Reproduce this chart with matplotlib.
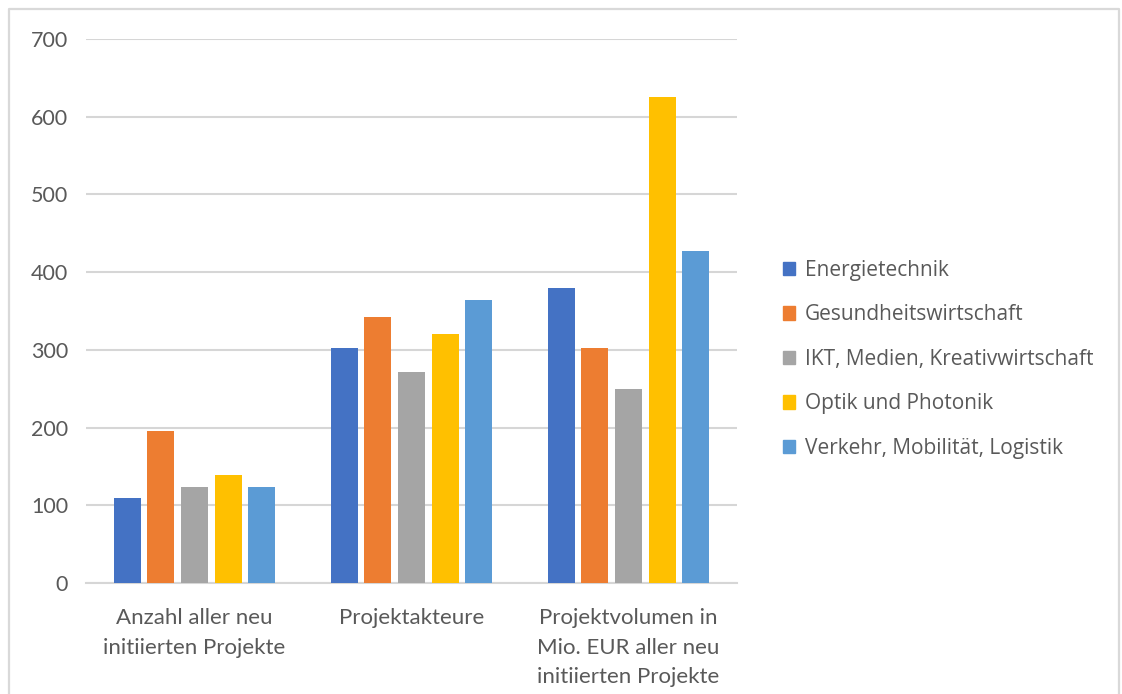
import matplotlib
matplotlib.use("Agg")
import matplotlib.pyplot as plt
from matplotlib.patches import Patch
from matplotlib.lines import Line2D
import numpy as np

categories = [
    "Anzahl aller neu\ninitiierten Projekte",
    "Projektakteure",
    "Projektvolumen in\nMio. EUR aller neu\ninitiierten Projekte",
]
series_names = [
    "Energietechnik",
    "Gesundheitswirtschaft",
    "IKT, Medien, Kreativwirtschaft",
    "Optik und Photonik",
    "Verkehr, Mobilität, Logistik",
]
energietechnik = [110, 302, 379]
gesundheitswirtschaft = [196, 342, 303]
ikt_medien = [123, 272, 250]
optik_photonik = [139, 320, 625]
verkehr_logistik = [123, 364, 427]
yticks = [0, 100, 200, 300, 400, 500, 600, 700]

series_values = [energietechnik, gesundheitswirtschaft, ikt_medien,
                 optik_photonik, verkehr_logistik]
colors = ["#4472C4", "#ED7D31", "#A5A5A5", "#FFC000", "#5B9BD5"]
text_color = "#595959"
axis_font = "Lato"
legend_font = "Open Sans"

fig = plt.figure(figsize=(11.22, 6.94), dpi=100)
fig.patch.set_facecolor("white")

# outer chart frame (light grey, continues past the bottom edge)
frame = Line2D([9 / 1122, 9 / 1122, 1119 / 1122, 1119 / 1122],
               [-0.05, 1 - 9 / 694, 1 - 9 / 694, -0.05],
               transform=fig.transFigure, color="#D9D9D9", lw=1.6)
fig.add_artist(frame)

ax = fig.add_axes([86 / 1122, 1 - 583 / 694, 651 / 1122, 544 / 694])
x = np.arange(len(categories))
step = 0.155
width = 0.124
for i, (vals, c) in enumerate(zip(series_values, colors)):
    ax.bar(x + (i - 2) * step, vals, width=width, color=c, zorder=3,
           label=series_names[i])

ax.set_xlim(-0.5, len(categories) - 0.5)
ax.set_ylim(0, 700)
ax.set_yticks(yticks)
ax.set_yticklabels([str(t) for t in yticks], fontsize=15.5,
                   color=text_color, family=axis_font)
ax.set_xticks(x)
ax.set_xticklabels(categories, fontsize=16, color=text_color,
                   family=axis_font, linespacing=1.6, va="top")
ax.tick_params(axis="both", length=0)
ax.tick_params(axis="y", pad=13)
ax.tick_params(axis="x", pad=18)
ax.grid(axis="y", color="#D6D6D6", lw=1.5, zorder=0)
for s in ["top", "right", "left"]:
    ax.spines[s].set_visible(False)
ax.spines["bottom"].set_color("#D6D6D6")
ax.spines["bottom"].set_linewidth(1.5)

handles = [Patch(facecolor=c, edgecolor=c) for c in colors]
leg = fig.legend(handles, series_names, loc="upper left",
                 bbox_to_anchor=(764 / 1122, 1 - 241 / 694),
                 frameon=False, handlelength=0.6,
                 handleheight=0.6, handletextpad=0.45, labelspacing=1.13,
                 prop={"family": legend_font, "size": 15})
for t in leg.get_texts():
    t.set_color(text_color)

fig.savefig("out.png", dpi=100)
